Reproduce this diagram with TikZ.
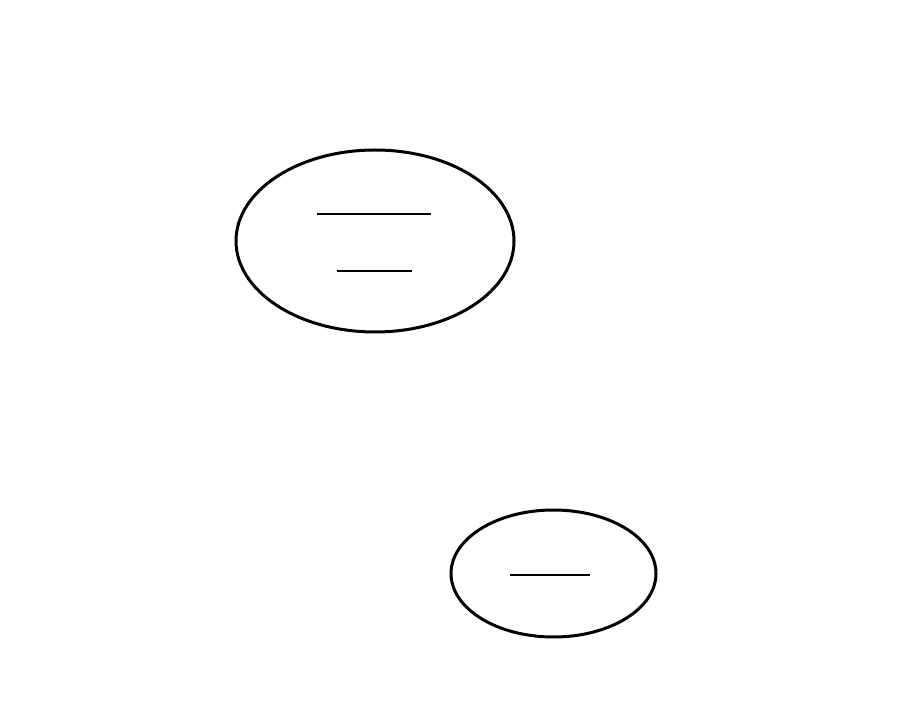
\documentclass[tikz,border=0pt]{standalone}
\usepackage{tikz}
\usetikzlibrary{shapes.geometric,calc}
\begin{document}
\begin{tikzpicture}[x=1pt,y=-1pt,
		blob/.style={draw, ellipse, line width=3pt, inner sep=0pt},
		blank/.style={line width=2.2pt},
	]
		\useasboundingbox (0,0) rectangle (900,703);
		%
		\node[blob, minimum width=278pt, minimum height=182pt] (e1) at (375,241) {};
		\node[blob, minimum width=205pt, minimum height=127pt] (e2) at (553.5,573.5) {};
		%
		\coordinate (a1) at ($(e1.center)+(-58,-27)$);
		\coordinate (a2) at ($(e1.center)+(56,-27)$);
		\coordinate (b1) at ($(e1.center)+(-38,30)$);
		\coordinate (b2) at ($(e1.center)+(37,30)$);
		\coordinate (c1) at ($(e2.center)+(-43.5,1.5)$);
		\coordinate (c2) at ($(e2.center)+(36.5,1.5)$);
		%
		\draw[blank] (a1) -- (a2);
		\draw[blank] (b1) -- (b2);
		\draw[blank] (c1) -- (c2);
	\end{tikzpicture}
\end{document}
